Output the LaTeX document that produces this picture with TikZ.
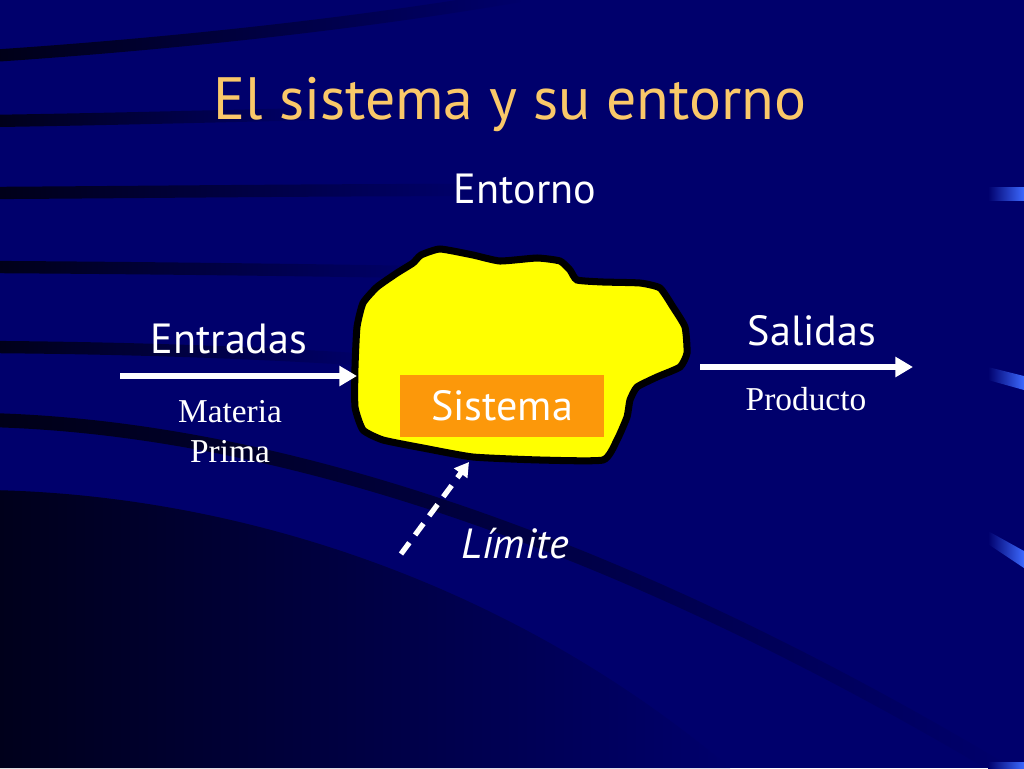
\documentclass[tikz,border=0pt]{standalone}
\usepackage{fontspec}
\setmainfont{Liberation Serif}
\setsansfont{PT Sans}
\usetikzlibrary{arrows.meta,fadings}

\definecolor{bg}{RGB}{0,0,108}
\definecolor{band}{RGB}{0,0,22}
\definecolor{bgdark}{RGB}{0,0,26}
\definecolor{titleorange}{RGB}{250,200,105}
\definecolor{blobyellow}{RGB}{255,255,0}
\definecolor{boxorange}{RGB}{252,152,10}
\definecolor{barblue}{RGB}{60,105,255}

\tikzfading[name=fade right, left color=transparent!0, right color=transparent!100]

\tikzset{
  band/.style={draw=band, line width=#1, path fading=fade right},
  band/.default=7pt,
  sidebar/.style={left color=bg, right color=barblue, draw=none},
  wlabel/.style={text=white, font=\sffamily\fontsize{24}{28}\selectfont, anchor=base},
  slabel/.style={text=white, font=\rmfamily\fontsize{19}{22}\selectfont, anchor=base},
  flow/.style={draw=white, line width=3.8pt, -{Triangle[length=10pt,width=11pt]}},
}

\begin{document}
\begin{tikzpicture}[x=0.02cm,y=-0.02cm]
\useasboundingbox (0,0) rectangle (1024,768);
\clip (0,0) rectangle (1024,768);
% background
\fill[bg] (0,0) rectangle (1024,768);
\draw[band] (-10,56) .. controls (200,42) and (380,20) .. (520,-4);
\draw[band] (-10,121) .. controls (120,119) and (220,116) .. (320,114);
\draw[band] (-10,193) .. controls (150,192) and (320,190) .. (470,190);
\draw[band] (-10,267) .. controls (150,268) and (300,270) .. (420,272);
\draw[band] (-10,347) .. controls (120,348) and (250,352) .. (370,360);
\draw[band=8pt] (-10,420) .. controls (300,428) and (650,560) .. (1000,768);
\shade[left color=bgdark, right color=bg]
  (-10,490) .. controls (250,495) and (520,590) .. (730,768) -- (-10,768) -- cycle;

% side bars
\shade[sidebar] (988,187) -- (1024,187) -- (1024,200) -- (988,200) -- cycle;
\shade[sidebar] (988,367) -- (1024,376) -- (1024,390) -- (988,380) -- cycle;
\shade[sidebar] (988,531) -- (1024,551) -- (1024,568) -- (988,544) -- cycle;
\shade[sidebar] (988,762) -- (1024,762) -- (1024,768) -- (988,768) -- cycle;

% sistema
\draw[line width=4pt, fill=blobyellow] plot[smooth cycle, tension=0.3] coordinates {
  (421,255) (440,249) (473,255) (500,261) (537,258) (560,261) (570,270)
  (577,280) (603,282) (640,283) (660,288) (673,307) (685,327) (687,353)
  (680,367) (657,377) (637,387) (630,400) (627,417) (617,440) (603,460)
  (540,460) (473,457) (423,448) (383,440) (363,430) (355,407) (355,367)
  (357,327) (363,303) (377,287) (397,273) (413,263)};

\node[fill=boxorange, minimum width=4.1cm, minimum height=1.24cm, inner sep=0pt,
  text=white, font=\sffamily\fontsize{24}{28}\selectfont] (sistema) at (502,406) {Sistema};

\node[anchor=base, text=titleorange, font=\sffamily\fontsize{34}{40}\selectfont] (title) at (510,119) {El sistema y su entorno};
\node[wlabel] (entorno) at (525,203) {Entorno};
\node[wlabel] (entradas) at (229,353) {Entradas};
\node[wlabel] (salidas) at (812,345) {Salidas};
\node[wlabel, font=\sffamily\itshape\fontsize{24}{28}\selectfont] (limite) at (515,558) {Límite};
\node[slabel] (materia) at (230,422) {Materia};
\node[slabel] (prima) at (230,462) {Prima};
\node[slabel] (producto) at (806,410) {Producto};

\coordinate (inA) at (120,376);
\coordinate (inB) at (357,376);
\coordinate (outA) at (700,367);
\coordinate (outB) at (913,367);
\coordinate (limA) at (401,554);
\coordinate (limB) at (469,462);

\draw[flow] (inA) -- (inB);
\draw[flow] (outA) -- (outB);
\draw[flow, line width=3pt, dash pattern=on 8pt off 5.5pt, -{Triangle[length=8pt,width=9pt]}] (limA) -- (limB);
\end{tikzpicture}
\end{document}
